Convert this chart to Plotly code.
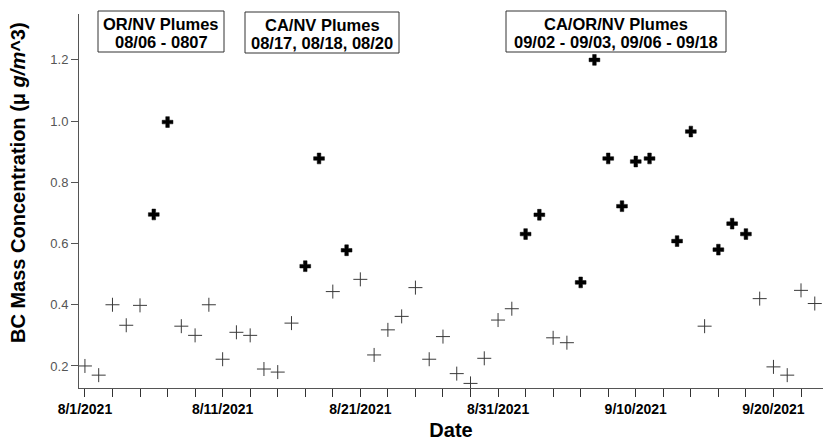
import plotly.graph_objects as go

# Non-plume days
normal_dates = ["2021-08-01", "2021-08-02", "2021-08-03", "2021-08-04", "2021-08-05",
                "2021-08-08", "2021-08-09", "2021-08-10", "2021-08-11", "2021-08-12",
                "2021-08-13", "2021-08-14", "2021-08-15", "2021-08-16", "2021-08-19",
                "2021-08-21", "2021-08-22", "2021-08-23", "2021-08-24", "2021-08-25",
                "2021-08-26", "2021-08-27", "2021-08-28", "2021-08-29", "2021-08-30",
                "2021-08-31", "2021-09-01", "2021-09-04", "2021-09-05", "2021-09-15",
                "2021-09-19", "2021-09-20", "2021-09-21", "2021-09-22", "2021-09-23"]
normal_values = [0.20, 0.17, 0.40, 0.333, 0.398,
                 0.33, 0.30, 0.40, 0.222, 0.31,
                 0.30, 0.19, 0.18, 0.34, 0.443,
                 0.483, 0.236, 0.318, 0.362, 0.456,
                 0.222, 0.296, 0.175, 0.143, 0.225,
                 0.35, 0.387, 0.292, 0.276, 0.33,
                 0.42, 0.197, 0.17, 0.447, 0.404]

# Plume days
plume_dates = ["2021-08-06", "2021-08-07", "2021-08-17", "2021-08-18", "2021-08-20",
               "2021-09-02", "2021-09-03", "2021-09-06", "2021-09-07", "2021-09-08",
               "2021-09-09", "2021-09-10", "2021-09-11", "2021-09-13", "2021-09-14",
               "2021-09-16", "2021-09-17", "2021-09-18"]
plume_values = [0.695, 0.997, 0.526, 0.878, 0.578,
                0.631, 0.694, 0.473, 1.20, 0.878,
                0.722, 0.868, 0.878, 0.608, 0.966,
                0.58, 0.665, 0.631]

box_titles = ["OR/NV Plumes", "CA/NV Plumes", "CA/OR/NV Plumes"]
box_dates = ["08/06 - 0807", "08/17, 08/18, 08/20", "09/02 - 09/03, 09/06 - 09/18"]

# layout geometry (pixels)
W, H = 823, 441
L, R, T, B = 79, 0, 14, 53
PW, PH = W - L - R, H - T - B


def px(x):
    return (x - L) / PW


def py(y):
    return (H - B - y) / PH


box_px = [(98, 224, 11, 52), (245, 399, 12, 53), (506, 726, 11, 52)]

fig = go.Figure()
fig.add_trace(go.Scatter(
    x=normal_dates, y=normal_values, mode="markers",
    marker=dict(symbol="cross-thin", size=10, line=dict(width=1, color="#3a3a3a")),
    showlegend=False))
fig.add_trace(go.Scatter(
    x=plume_dates, y=plume_values, mode="markers",
    marker=dict(symbol="cross", size=9, color="black", line=dict(width=0.5, color="black")),
    showlegend=False))

afont = dict(family="Arial, Liberation Sans", size=16.5, color="black", weight="bold")
for title, dates, (x0, x1, y0, y1) in zip(box_titles, box_dates, box_px):
    fig.add_shape(type="rect", xref="paper", yref="paper",
                  x0=px(x0), x1=px(x1), y0=py(y1), y1=py(y0),
                  line=dict(color="#333333", width=1), fillcolor="white")
    cx = px((x0 + x1) / 2)
    fig.add_annotation(text=title, xref="paper", yref="paper", x=cx, y=py(y0 + 13),
                       xanchor="center", yanchor="middle", showarrow=False, font=afont)
    fig.add_annotation(text=dates, xref="paper", yref="paper", x=cx, y=py(y0 + 31),
                       xanchor="center", yanchor="middle", showarrow=False, font=afont)

fig.add_annotation(text="BC Mass Concentration (μ <i>g/m</i>^3)", textangle=-90,
                   xref="paper", yref="paper", x=px(18), y=py(183),
                   xanchor="center", yanchor="middle", showarrow=False,
                   font=dict(family="Arial, Liberation Sans", size=20, color="black",
                             weight="bold"))

fig.update_layout(
    width=W, height=H,
    margin=dict(l=L, r=R, t=T, b=B),
    plot_bgcolor="white", paper_bgcolor="white",
    font=dict(family="Arial, Liberation Sans"),
    xaxis=dict(
        type="date",
        range=["2021-07-31 13:40", "2021-09-23 14:20"],
        tick0="2021-08-01", dtick=10 * 86400000,
        tickformat="%-m/%-d/%Y",
        tickfont=dict(size=14, color="black", weight="bold"),
        ticks="outside", ticklen=8, tickcolor="#333333",
        minor=dict(dtick=2 * 86400000, tick0="2021-08-01", ticks="outside", ticklen=8,
                   tickcolor="#333333", showgrid=False),
        showline=True, linecolor="#555555", linewidth=1,
        showgrid=False, zeroline=False,
        title=dict(text="<b>Date</b>", font=dict(size=20, color="black"), standoff=7),
    ),
    yaxis=dict(
        range=[0.128, 1.35],
        tickvals=[0.2, 0.4, 0.6, 0.8, 1.0, 1.2],
        ticktext=["0.2", "0.4", "0.6", "0.8", "1.0", "1.2"],
        tickfont=dict(size=13, color="#555555"),
        ticks="outside", ticklen=7, tickcolor="#555555",
        showline=True, linecolor="#555555", linewidth=1,
        showgrid=False, zeroline=False,
    ),
)

fig.write_html("out.html")
